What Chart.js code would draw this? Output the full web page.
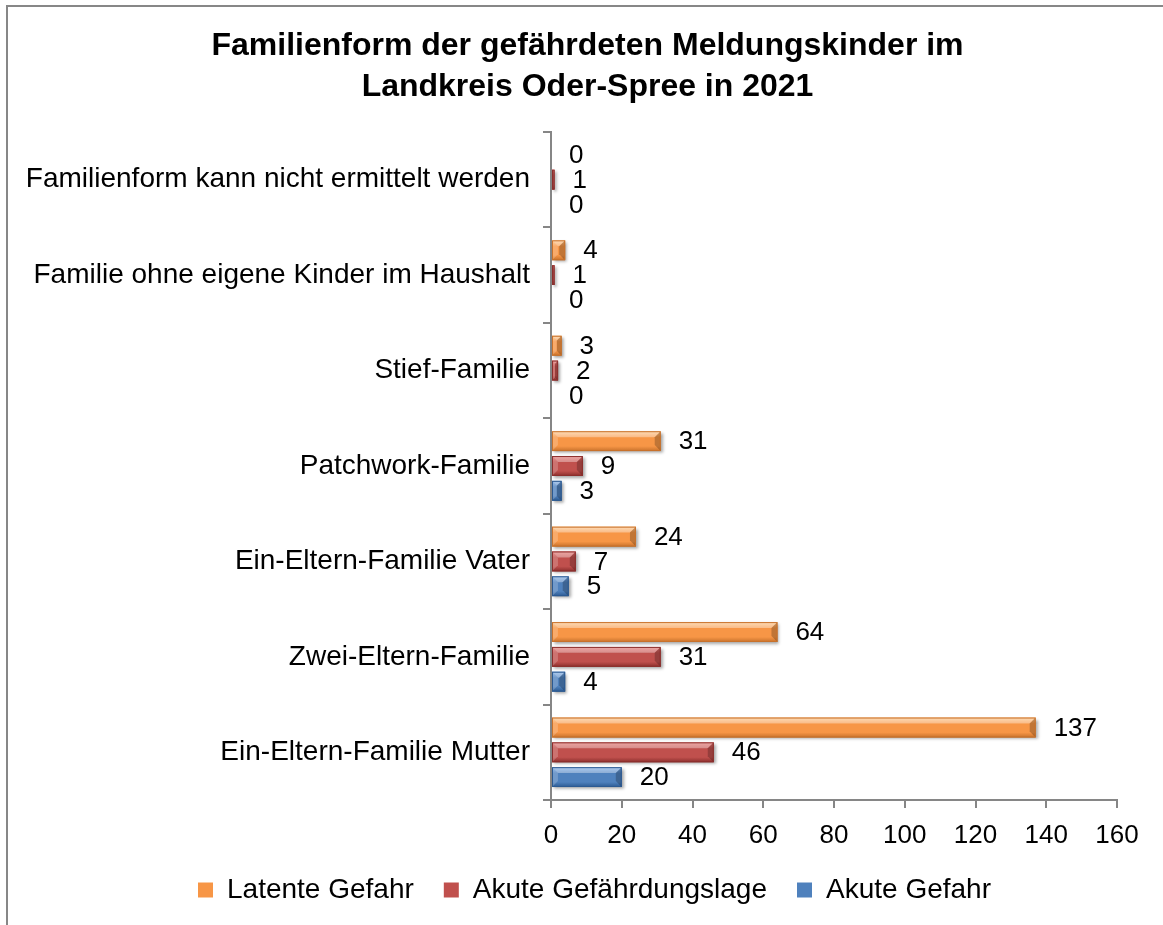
<!DOCTYPE html>
<html lang="de">
<head>
  <meta charset="UTF-8" />
  <title>Familienform der gefährdeten Meldungskinder</title>
  <script src="https://cdn.jsdelivr.net/npm/chart.js"></script>
  <style>
    body { margin: 0; background: #fff; }
    .frame { position: absolute; left: 6px; top: 5px; width: 1200px; height: 1000px;
             border-left: 2px solid #878787; border-top: 2px solid #878787; }
    #chart { position: absolute; left: 0; top: 0; }
  </style>
</head>
<body>
  <div class="frame"></div>
  <canvas id="chart" width="1163" height="925"></canvas>

  <script>
    const categories = [
      "Familienform kann nicht ermittelt werden",
      "Familie ohne eigene Kinder im Haushalt",
      "Stief-Familie",
      "Patchwork-Familie",
      "Ein-Eltern-Familie Vater",
      "Zwei-Eltern-Familie",
      "Ein-Eltern-Familie Mutter"
    ];
    const seriesNames = ["Latente Gefahr", "Akute Gefährdungslage", "Akute Gefahr"];
    const latenteGefahr = [0, 4, 3, 31, 24, 64, 137];
    const akuteLage = [1, 1, 2, 9, 7, 31, 46];
    const akuteGefahr = [0, 0, 0, 3, 5, 4, 20];
    const xTicks = { min: 0, max: 160, step: 20 };

    // base colour, highlight, shade
    const colors = [
      ["#f79646", "#fcc98f", "#c8722c"],
      ["#c0504d", "#e57773", "#8c2f2d"],
      ["#4f81bd", "#80aee6", "#2c5a92"]
    ];
    const FONT = "'Liberation Sans', Arial, sans-serif";

    // draw the bars with a bevelled 3d look on top of the plain bars
    const bevel = {
      id: "bevel",
      afterDatasetsDraw(chart) {
        const ctx = chart.ctx;
        chart.data.datasets.forEach((ds, i) => {
          const c = colors[i];
          chart.getDatasetMeta(i).data.forEach(bar => {
            const p = bar.getProps(["x", "y", "base", "height"], true);
            const w = p.x - p.base;
            if (w < 0.5) return;
            const top = p.y - p.height / 2, h = p.height;
            const g = ctx.createLinearGradient(0, top, 0, top + h);
            g.addColorStop(0, c[1]);
            g.addColorStop(0.3, c[0]);
            g.addColorStop(0.75, c[0]);
            g.addColorStop(1, c[2]);
            ctx.save();
            ctx.shadowColor = "rgba(0,0,0,0.35)";
            ctx.shadowOffsetX = 2;
            ctx.shadowOffsetY = 2;
            ctx.shadowBlur = 3;
            ctx.fillStyle = g;
            ctx.fillRect(p.base, top, w, h);
            ctx.restore();
            // bevelled ends
            const b = Math.min(h * 0.3, w / 2);
            ctx.save();
            ctx.fillStyle = "rgba(255,255,255,0.35)";
            ctx.beginPath();
            ctx.moveTo(p.x, top); ctx.lineTo(p.x - b, top + b); ctx.lineTo(p.base + b, top + b);
            ctx.lineTo(p.base, top); ctx.closePath(); ctx.fill();
            ctx.fillStyle = "rgba(0,0,0,0.22)";
            ctx.beginPath();
            ctx.moveTo(p.x, top); ctx.lineTo(p.x, top + h); ctx.lineTo(p.x - b, top + h - b);
            ctx.lineTo(p.x - b, top + b); ctx.closePath(); ctx.fill();
            ctx.fillStyle = "rgba(255,255,255,0.2)";
            ctx.beginPath();
            ctx.moveTo(p.base, top); ctx.lineTo(p.base + b, top + b); ctx.lineTo(p.base + b, top + h - b);
            ctx.lineTo(p.base, top + h); ctx.closePath(); ctx.fill();
            ctx.strokeStyle = c[2];
            ctx.lineWidth = 1;
            ctx.strokeRect(p.base + 0.5, top + 0.5, w - 1, h - 1);
            ctx.restore();
          });
        });
      }
    };

    const valueLabels = {
      id: "valueLabels",
      afterDatasetsDraw(chart) {
        const ctx = chart.ctx;
        ctx.save();
        ctx.font = "26px " + FONT;
        ctx.fillStyle = "#000";
        ctx.textAlign = "left";
        ctx.textBaseline = "middle";
        chart.data.datasets.forEach((ds, i) => {
          chart.getDatasetMeta(i).data.forEach((bar, j) => {
            ctx.fillText(ds.data[j], bar.x + 18, bar.y + 1);
          });
        });
        ctx.restore();
      }
    };

    // title and legend sit a bit right of the canvas centre in the original
    const shiftBlocks = {
      id: "shiftBlocks",
      afterLayout(chart) {
        const t = chart.titleBlock, l = chart.legend;
        if (t) { t.left += 25; t.right += 25; }
        if (l) { l.left += 32; l.right += 32; }
      }
    };

    const series = [latenteGefahr, akuteLage, akuteGefahr];

    new Chart(document.getElementById("chart"), {
      type: "bar",
      data: {
        labels: categories,
        datasets: series.map((d, i) => ({
          label: seriesNames[i],
          data: d,
          backgroundColor: colors[i][0],
          borderWidth: 0,
          categoryPercentage: 0.78,
          barPercentage: 0.8
        }))
      },
      options: {
        indexAxis: "y",
        responsive: false,
        animation: false,
        layout: { padding: { left: 8, right: 46, top: 6, bottom: 11 } },
        plugins: {
          title: {
            display: true,
            text: ["Familienform der gefährdeten Meldungskinder im", "Landkreis Oder-Spree in 2021"],
            color: "#000",
            font: { family: FONT, size: 32, weight: "bold", lineHeight: 1.28 },
            padding: { top: 20, bottom: 24 }
          },
          legend: {
            position: "bottom",
            labels: {
              color: "#000",
              font: { family: FONT, size: 28 },
              boxWidth: 15,
              boxHeight: 15,
              padding: 30
            }
          },
          tooltip: { enabled: false }
        },
        scales: {
          y: {
            grid: { drawOnChartArea: false, drawTicks: true, tickLength: 8, color: "#868686", lineWidth: 2, offset: true },
            border: { color: "#868686", width: 2 },
            ticks: { color: "#000", font: { family: FONT, size: 28 }, padding: 13 },
            afterFit(scale) { scale.width = 543; }
          },
          x: {
            min: xTicks.min,
            max: xTicks.max,
            grid: { drawOnChartArea: false, drawTicks: true, tickLength: 8, color: "#868686", lineWidth: 2 },
            border: { color: "#868686", width: 2 },
            ticks: { stepSize: xTicks.step, color: "#000", font: { family: FONT, size: 26 }, padding: 12 },
            afterFit(scale) { scale.height = 46; }
          }
        }
      },
      plugins: [bevel, valueLabels, shiftBlocks]
    });
  </script>
</body>
</html>
